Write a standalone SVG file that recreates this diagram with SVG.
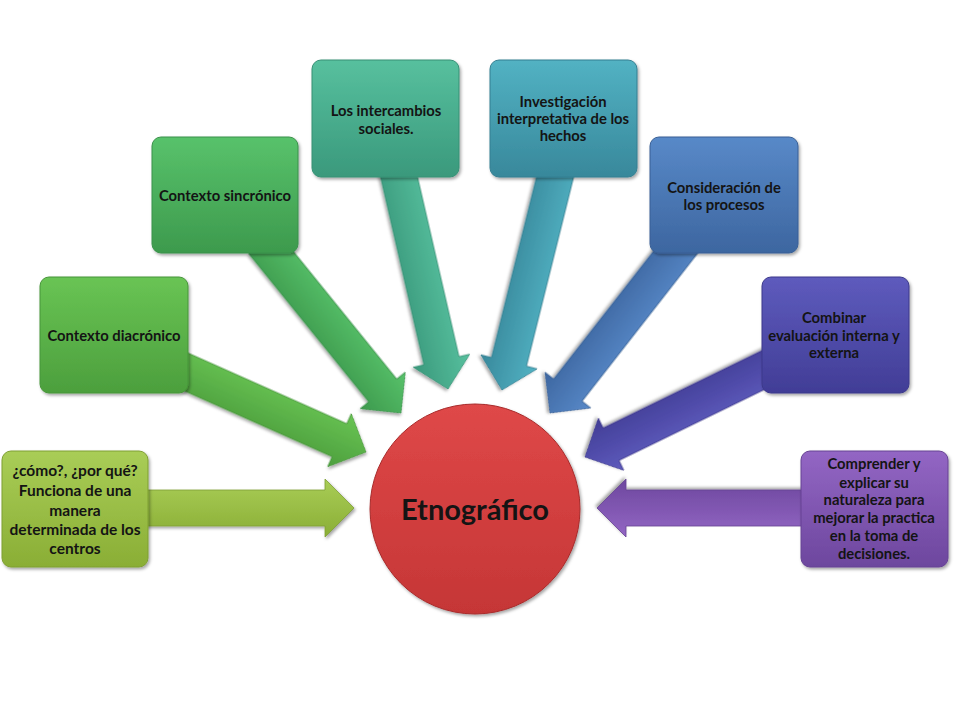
<svg xmlns="http://www.w3.org/2000/svg" width="960" height="720" viewBox="0 0 960 720">
<defs>
<linearGradient id="g1" x1="0" y1="0" x2="0" y2="1"><stop offset="0" stop-color="#a9cd57"/><stop offset="1" stop-color="#8aae35"/></linearGradient>
<linearGradient id="g2" x1="0" y1="0" x2="0" y2="1"><stop offset="0" stop-color="#69c454"/><stop offset="1" stop-color="#4c9f3d"/></linearGradient>
<linearGradient id="g3" x1="0" y1="0" x2="0" y2="1"><stop offset="0" stop-color="#58c26b"/><stop offset="1" stop-color="#3d9a4d"/></linearGradient>
<linearGradient id="g4" x1="0" y1="0" x2="0" y2="1"><stop offset="0" stop-color="#57c09e"/><stop offset="1" stop-color="#3a997c"/></linearGradient>
<linearGradient id="g5" x1="0" y1="0" x2="0" y2="1"><stop offset="0" stop-color="#52b2c3"/><stop offset="1" stop-color="#38889b"/></linearGradient>
<linearGradient id="g6" x1="0" y1="0" x2="0" y2="1"><stop offset="0" stop-color="#5889c8"/><stop offset="1" stop-color="#3d66a0"/></linearGradient>
<linearGradient id="g7" x1="0" y1="0" x2="0" y2="1"><stop offset="0" stop-color="#5e5bbd"/><stop offset="1" stop-color="#413d96"/></linearGradient>
<linearGradient id="g8" x1="0" y1="0" x2="0" y2="1"><stop offset="0" stop-color="#9366c4"/><stop offset="1" stop-color="#6d479e"/></linearGradient>
<linearGradient id="gc" x1="0" y1="0" x2="0" y2="1"><stop offset="0" stop-color="#df4848"/><stop offset="1" stop-color="#c53636"/></linearGradient>
<filter id="sh" x="-10%" y="-10%" width="130%" height="130%"><feDropShadow dx="1.5" dy="2" stdDeviation="1.8" flood-color="#000" flood-opacity="0.35"/></filter>
</defs>
<style>
.box{stroke-width:1;filter:url(#sh)}
.arr{stroke-width:0.8;filter:url(#sh)}
text{font-family:Lato,"Open Sans","Liberation Sans",sans-serif;font-weight:bold;fill:#141414;text-anchor:middle;dominant-baseline:central}
.t{font-size:14.8px}
.t1{font-size:15.5px}
.tc{font-size:29px}
</style>
<g id="connectors">
<polygon class="arr" fill="url(#g1)" stroke="#7f9f33" transform="translate(354,508) rotate(0)" points="-215,-18 -29,-18 -29,-29 0,0 -29,29 -29,18 -215,18"/>
<polygon class="arr" fill="url(#g2)" stroke="#47953a" transform="translate(366,452) rotate(24)" points="-215,-18 -29,-18 -29,-29 0,0 -29,29 -29,18 -215,18"/>
<polygon class="arr" fill="url(#g3)" stroke="#3a914a" transform="translate(401,413) rotate(51)" points="-220,-18 -29,-18 -29,-29 0,0 -29,29 -29,18 -220,18"/>
<polygon class="arr" fill="url(#g4)" stroke="#369075" transform="translate(448,389) rotate(77)" points="-230,-18 -29,-18 -29,-29 0,0 -29,29 -29,18 -230,18"/>
<polygon class="arr" fill="url(#g5)" stroke="#357f91" transform="translate(502,390) rotate(104)" points="-230,-18 -29,-18 -29,-29 0,0 -29,29 -29,18 -230,18"/>
<polygon class="arr" fill="url(#g6)" stroke="#395f95" transform="translate(550,413) rotate(128)" points="-220,-18 -29,-18 -29,-29 0,0 -29,29 -29,18 -220,18"/>
<polygon class="arr" fill="url(#g7)" stroke="#3c398b" transform="translate(585,457) rotate(154)" points="-215,-18 -29,-18 -29,-29 0,0 -29,29 -29,18 -215,18"/>
<polygon class="arr" fill="url(#g8)" stroke="#664293" transform="translate(597,508) rotate(180)" points="-215,-18 -29,-18 -29,-29 0,0 -29,29 -29,18 -215,18"/>
</g>
<g id="n1">
<rect class="box" x="2" y="451" width="146" height="116" rx="9" fill="url(#g1)" stroke="#7f9f33"/>
<text class="t1" x="75"><tspan x="75" y="470">¿cómo?, ¿por qué?</tspan><tspan x="75" y="490">Funciona de una</tspan><tspan x="75" y="509.5">manera</tspan><tspan x="75" y="529">determinada de los</tspan><tspan x="75" y="548">centros</tspan></text>
</g>
<g id="n2">
<rect class="box" x="40" y="277" width="148" height="116" rx="9" fill="url(#g2)" stroke="#47953a"/>
<text class="t" x="114" y="335">Contexto diacrónico</text>
</g>
<g id="n3">
<rect class="box" x="152" y="137" width="146" height="116" rx="9" fill="url(#g3)" stroke="#3a914a"/>
<text class="t" x="225" y="195">Contexto sincrónico</text>
</g>
<g id="n4">
<rect class="box" x="312" y="60" width="147" height="117" rx="9" fill="url(#g4)" stroke="#369075"/>
<text class="t"><tspan x="386" y="110">Los intercambios</tspan><tspan x="386" y="127.5">sociales.</tspan></text>
</g>
<g id="n5">
<rect class="box" x="490" y="60" width="147" height="117" rx="9" fill="url(#g5)" stroke="#357f91"/>
<text class="t"><tspan x="563" y="101">Investigación</tspan><tspan x="563" y="118">interpretativa de los</tspan><tspan x="563" y="135">hechos</tspan></text>
</g>
<g id="n6">
<rect class="box" x="650" y="137" width="148" height="116" rx="9" fill="url(#g6)" stroke="#395f95"/>
<text class="t"><tspan x="724" y="187">Consideración de</tspan><tspan x="724" y="204">los procesos</tspan></text>
</g>
<g id="n7">
<rect class="box" x="762" y="277" width="147" height="116" rx="9" fill="url(#g7)" stroke="#3c398b"/>
<text class="t"><tspan x="834" y="317">Combinar</tspan><tspan x="834" y="335">evaluación interna y</tspan><tspan x="834" y="352">externa</tspan></text>
</g>
<g id="n8">
<rect class="box" x="801" y="451" width="147" height="116" rx="9" fill="url(#g8)" stroke="#664293"/>
<text class="t"><tspan x="874" y="463">Comprender y</tspan><tspan x="874" y="481.5">explicar su</tspan><tspan x="874" y="499">naturaleza para</tspan><tspan x="874" y="517">mejorar la practica</tspan><tspan x="874" y="535">en la toma de</tspan><tspan x="874" y="553">decisiones.</tspan></text>
</g>
<g id="center">
<circle class="box" cx="475" cy="509" r="105" fill="url(#gc)" stroke="#a82c2c"/>
<text class="tc" x="475" y="508">Etnográfico</text>
</g>
</svg>
